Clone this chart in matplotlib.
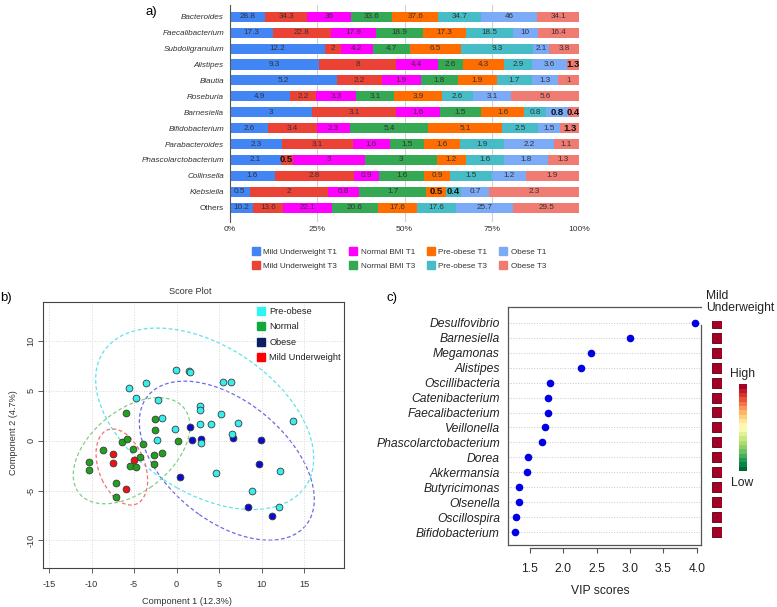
import matplotlib

matplotlib.use("Agg")

import matplotlib.pyplot as plt
import numpy as np
from matplotlib.colorbar import ColorbarBase
from matplotlib.lines import Line2D
from matplotlib.patches import Ellipse

W, H = 777, 607

# ---- panel a: relative abundance per genus (%), one list per group ----
GENERA = ["Bacteroides", "Faecalibacterium", "Subdoligranulum", "Alistipes", "Blautia",
          "Roseburia", "Barnesiella", "Bifidobacterium", "Parabacteroides",
          "Phascolarctobacterium", "Collinsella", "Klebsiella", "Others"]
GROUPS = ["Mild Underweight T1", "Mild Underweight T3", "Normal BMI T1", "Normal BMI T3",
          "Pre-obese T1", "Pre-obese T3", "Obese T1", "Obese T3"]
MU_T1 = [28.8, 17.3, 12.2, 9.3, 5.2, 4.9, 3, 2.6, 2.3, 2.1, 1.6, 0.5, 10.2]
MU_T3 = [34.3, 22.8, 2, 8, 2.2, 2.2, 3.1, 3.4, 3.1, 0.5, 2.8, 2, 13.6]
NORMAL_T1 = [36, 17.9, 4.2, 4.4, 1.9, 3.3, 1.6, 2.3, 1.6, 3, 0.9, 0.8, 22.1]
NORMAL_T3 = [33.6, 18.9, 4.7, 2.6, 1.8, 3.1, 1.5, 5.4, 1.5, 3, 1.6, 1.7, 20.6]
PREOBESE_T1 = [37.6, 17.3, 6.5, 4.3, 1.9, 3.9, 1.6, 5.1, 1.6, 1.2, 0.9, 0.5, 17.6]
PREOBESE_T3 = [34.7, 18.5, 9.3, 2.9, 1.7, 2.6, 0.8, 2.5, 1.9, 1.6, 1.5, 0.4, 17.6]
OBESE_T1 = [46, 10, 2.1, 3.6, 1.3, 3.1, 0.8, 1.5, 2.2, 1.8, 1.2, 0.7, 25.7]
OBESE_T3 = [34.1, 16.4, 3.8, 1.3, 1, 5.6, 0.4, 1.3, 1.1, 1.3, 1.9, 2.3, 29.5]
# (row, group) cells whose value label is written bold in the original
BOLD_CELLS = {(3, 7), (6, 6), (6, 7), (7, 7), (9, 1), (11, 4), (11, 5)}
BAR_COLORS = ["#4285F4", "#EA4335", "#FF00FF", "#34A853",
              "#FF6D01", "#46BDC6", "#7BAAF7", "#F07B72"]

# ---- panel b: PLS-DA score plot ----
PRE_X = [-5.57, -3.57, -4.8, -2.24, -0.1, 1.5, 1.62, 5.5, 6.35, 2.8, 2.75, 5.2, -1.76,
         -0.24, 2.7, 4.04, 7.2, 13.7, -2.27, 6.55, 2.86, 4.6, 12.2, 8.9, 12.0]
PRE_Y = [5.25, 5.75, 4.27, 4.1, 7.05, 6.95, 6.85, 5.9, 5.9, 3.5, 3.1, 2.7, 2.3,
         1.17, 1.67, 1.64, 1.74, 1.94, 0.05, 0.64, -0.27, -3.24, -3.0, -5.0, -6.6]
NORMAL_X = [-5.92, -2.55, -2.51, 0.2, -6.4, -5.84, -5.18, -3.92, -8.63, -4.31, -1.76,
            -2.7, -2.7, -5.49, -4.78, -10.3, -10.35, -7.14, -7.18]
NORMAL_Y = [2.81, 2.2, 1.1, -0.05, -0.17, 0.13, -0.84, -0.33, -0.94, -1.64, -1.27,
            -1.4, -2.31, -2.51, -2.61, -2.17, -2.94, -4.21, -5.65]
OBESE_X = [1.57, 1.76, 2.86, 6.67, 9.92, 9.69, 0.39, 8.39, 11.18]
OBESE_Y = [1.34, 0.07, 0.2, 0.3, 0.03, -2.31, -3.61, -6.66, -7.59]
MILD_X = [-7.53, -7.53, -4.98, -6.0]
MILD_Y = [-1.37, -2.27, -1.94, -4.88]
# 95% ellipses: centre x, centre y, width, height, angle (deg)
ELL_PRE = (3.3, 2.2, 27.5, 15.3, -25.6)
ELL_OBESE = (5.9, -2.0, 22.8, 12.6, -31.0)
ELL_NORMAL = (-5.3, -1.0, 15.1, 8.6, 30.4)
ELL_MILD = (-6.45, -2.64, 8.2, 5.3, -61.7)

# ---- panel c: VIP scores ----
VIP_GENERA = ["Desulfovibrio", "Barnesiella", "Megamonas", "Alistipes", "Oscillibacteria",
              "Catenibacterium", "Faecalibacterium", "Veillonella", "Phascolarctobacterium",
              "Dorea", "Akkermansia", "Butyricimonas", "Olsenella", "Oscillospira",
              "Bifidobacterium"]
VIP_SCORES = [3.97, 3.0, 2.41, 2.265, 1.8, 1.775, 1.775, 1.72, 1.685, 1.465, 1.45,
              1.34, 1.33, 1.295, 1.28]
MILD_LEVEL = [1.0, 1.0, 1.0, 1.0, 1.0, 1.0, 1.0, 1.0, 1.0, 1.0, 1.0, 1.0, 1.0, 1.0, 1.0]

plt.rcParams["font.family"] = ["Liberation Sans", "DejaVu Sans"]
plt.rcParams["axes.unicode_minus"] = False


def fx(px):
    return px / W


def fy(py):
    return 1 - py / H


fig = plt.figure(figsize=(W / 100, H / 100), dpi=100)

# ================= panel a =================
ax = fig.add_axes([fx(230), fy(222), 349 / W, 217 / H])
vals = np.array([MU_T1, MU_T3, NORMAL_T1, NORMAL_T3, PREOBESE_T1, PREOBESE_T3,
                 OBESE_T1, OBESE_T3], dtype=float)
pct = vals / vals.sum(axis=0) * 100
rows = np.arange(len(GENERA))
left = np.zeros(len(GENERA))
for g, (name, color) in enumerate(zip(GROUPS, BAR_COLORS)):
    ax.barh(rows, pct[g], left=left, height=0.63, color=color, edgecolor="none",
            zorder=2)
    for r in rows:
        bold = (r, g) in BOLD_CELLS
        ax.text(left[r] + pct[g][r] / 2, r, f"{vals[g][r]:g}", ha="center", va="center",
                fontsize=6.8 if bold else 5.9, fontweight="bold" if bold else "normal",
                color="#111111" if bold else "#333333", zorder=3)
    left += pct[g]
ax.set_xlim(0, 100)
ax.set_ylim(12.9, -0.74)
ax.set_yticks(rows)
ax.set_yticklabels(GENERA, fontsize=5.9, color="#333333")
for lab in ax.get_yticklabels():
    if lab.get_text() != "Others":
        lab.set_fontstyle("italic")
ax.set_xticks([0, 25, 50, 75, 100])
ax.set_xticklabels(["0%", "25%", "50%", "75%", "100%"], fontsize=6.1, color="#333333")
ax.tick_params(axis="both", length=0)
ax.tick_params(axis="y", pad=4.3)
ax.tick_params(axis="x", pad=3)
ax.grid(True, axis="x", color="#d0d0d0", linewidth=0.8, zorder=0)
for side in ["top", "right", "bottom"]:
    ax.spines[side].set_visible(False)
ax.spines["left"].set_color("#555555")
handles = [Line2D([], [], marker="s", linestyle="none", markersize=5.3, color=c)
           for c in BAR_COLORS]
ax.legend(handles, GROUPS, loc="upper left", bbox_to_anchor=(fx(252), fy(248)),
          bbox_transform=fig.transFigure, ncol=4, frameon=False, fontsize=5.9,
          handlelength=0.9, handletextpad=0.5, columnspacing=1.45, labelspacing=0.75,
          borderaxespad=0, borderpad=0, labelcolor="#333333")
fig.text(fx(151), fy(12), "a)", fontsize=9.5, ha="center", va="center")

# ================= panel b =================
axb = fig.add_axes([fx(42.7), fy(567.7), (344 - 42.7) / W, (567.7 - 301.7) / H])
axb.set_xlim(-15.76, 19.69)
axb.set_ylim(-12.74, 13.95)
axb.set_xticks([-15, -10, -5, 0, 5, 10, 15])
axb.set_yticks([-10, -5, 0, 5, 10])
axb.grid(True, color="#d8d8d8", linestyle=":", linewidth=0.7, zorder=0)
for (cx, cy, w, h, a), col in [(ELL_PRE, "#5fe3ea"), (ELL_OBESE, "#6a6ae6"),
                               (ELL_NORMAL, "#7fd07f"), (ELL_MILD, "#f07272")]:
    axb.add_patch(Ellipse((cx, cy), w, h, angle=a, fill=False, edgecolor=col,
                          linestyle=(0, (3, 2)), linewidth=0.9, zorder=1))
for xs, ys, col in [(OBESE_X, OBESE_Y, "#0a0ad2"), (NORMAL_X, NORMAL_Y, "#1ea21e"),
                    (PRE_X, PRE_Y, "#35eef0"), (MILD_X, MILD_Y, "#f01010")]:
    axb.scatter(xs, ys, s=24, color=col, edgecolor="#3a3a3a", linewidth=0.6, zorder=3)
axb.tick_params(axis="both", labelsize=6.6, labelcolor="#333333", color="#444444",
                length=3.5, width=0.6)
axb.tick_params(axis="x", pad=5)
axb.tick_params(axis="y", pad=1.5)
for lab in axb.get_yticklabels():
    lab.set_rotation(90)
    lab.set_va("center")
for sp in axb.spines.values():
    sp.set_color("#444444")
    sp.set_linewidth(0.8)
leg_cols = ["#2ff4f4", "#12a83e", "#0b1f62", "#ff0000"]
leg_handles = [Line2D([], [], marker="s", linestyle="none", markersize=5.3, color=c)
               for c in leg_cols]
axb.legend(leg_handles, ["Pre-obese", "Normal", "Obese", "Mild Underweight"],
           loc="upper left", bbox_to_anchor=(fx(257.5), fy(307)),
           bbox_transform=fig.transFigure, frameon=False, fontsize=6.7,
           handlelength=0.8, handletextpad=0.45, labelspacing=0.69,
           borderaxespad=0, borderpad=0, labelcolor="#222222")
fig.text(fx(190), fy(291), "Score Plot", fontsize=6.6, ha="center", va="center",
         color="#333333")
fig.text(fx(187), fy(601.5), "Component 1 (12.3%)", fontsize=6.6, ha="center",
         va="center", color="#333333")
fig.text(fx(13.3), fy(433), "Component 2 (4.7%)", fontsize=6.6, ha="center",
         va="center", rotation=90, color="#333333")
fig.text(fx(6), fy(298), "b)", fontsize=9.5, ha="center", va="center")

# ================= panel c =================
axc = fig.add_axes([fx(508.3), fy(545), (700.7 - 508.3) / W, (545 - 307.3) / H])
vip_rows = np.arange(len(VIP_GENERA), 0, -1)
axc.set_xlim(1.175, 4.06)
axc.set_ylim(0.15, 16.03)
for r in vip_rows:
    axc.axhline(r, color="#c8c8c8", linestyle=":", linewidth=0.7, zorder=0)
axc.scatter(VIP_SCORES, vip_rows, s=20, color="#0000e6", zorder=3)
axc.set_yticks(vip_rows)
axc.set_yticklabels(VIP_GENERA, fontsize=8.7, fontstyle="italic", color="#222222")
axc.tick_params(axis="y", length=0, pad=6)
axc.set_xticks([1.5, 2.0, 2.5, 3.0, 3.5, 4.0])
axc.set_xticklabels(["1.5", "2.0", "2.5", "3.0", "3.5", "4.0"])
axc.tick_params(axis="x", labelsize=8.7, labelcolor="#222222", length=3.6, width=0.8,
                color="#555555", pad=7)
axc.spines["bottom"].set_position(("outward", 2.4))
axc.spines["bottom"].set_bounds(1.5, 4.0)
axc.spines["right"].set_bounds(0.15, 14.85)
for sp in axc.spines.values():
    sp.set_color("#555555")
    sp.set_linewidth(0.9)
axc.plot([0, 1], [0, 0], transform=axc.transAxes, color="#555555", linewidth=0.9,
         clip_on=False)
fig.text(fx(600), fy(591), "VIP scores", fontsize=8.7, ha="center", va="center",
         color="#222222")
fig.text(fx(392), fy(298), "c)", fontsize=9.5, ha="center", va="center")

# heat squares for Mild Underweight
cmap = plt.get_cmap("RdYlGn_r", 20)
axh = fig.add_axes([fx(711.7), fy(545), 10 / W, (545 - 320.7) / H])
axh.barh(vip_rows, [1.0] * len(vip_rows), height=0.668,
         color=[cmap(float(v)) for v in MILD_LEVEL], edgecolor="#50000f", linewidth=0.6)
axh.set_xlim(0, 1)
axh.set_ylim(0.15, 15.13)
axh.axis("off")
fig.text(fx(706), fy(302), "Mild\nUnderweight", fontsize=8.7, ha="left", va="center",
         linespacing=1.0, color="#222222")

# colour key
cax = fig.add_axes([fx(739.3), fy(471), 7.4 / W, 86.7 / H])
cb = ColorbarBase(cax, cmap=cmap, orientation="vertical")
cb.set_ticks([])
cb.outline.set_visible(False)
fig.text(fx(742.7), fy(374.3), "High", fontsize=8.7, ha="center", va="center",
         color="#222222")
fig.text(fx(741.7), fy(483.3), "Low", fontsize=8.7, ha="center", va="center",
         color="#222222")

fig.savefig("out.png", dpi=100, facecolor="white")
